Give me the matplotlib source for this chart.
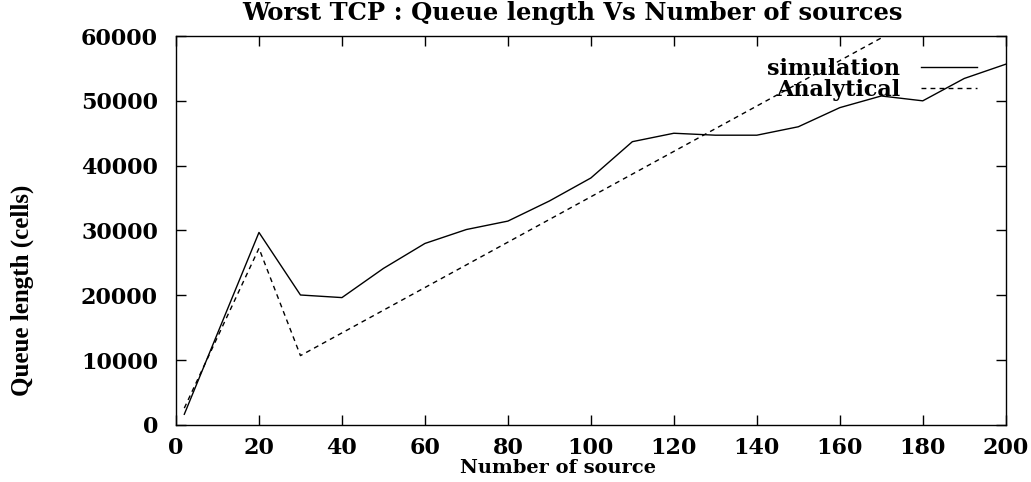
import matplotlib
matplotlib.use("Agg")
import matplotlib.pyplot as plt

# number of sources (x axis)
sources = [2, 20, 30, 40, 50, 60, 70, 80, 90, 100, 110, 120, 130, 140,
           150, 160, 170, 180, 190, 200]

# simulated queue length in cells
simulation = [1650, 29700, 20050, 19650, 24150, 28000, 30150, 31450, 34550,
              38100, 43700, 45000, 44700, 44700, 46000, 48950, 50750, 50000,
              53450, 55650]

# analytical queue length in cells (goes off the top of the plot after ~170)
analytical = [2600, 27250, 10700, 14200, 17700, 21200, 24700, 28200, 31700,
              35200, 38700, 42200, 45700, 49200, 52700, 56200, 59700, 63200,
              66700, 70200]

x_ticks = [0, 20, 40, 60, 80, 100, 120, 140, 160, 180, 200]
y_ticks = [0, 10000, 20000, 30000, 40000, 50000, 60000]

WIDE = "DejaVu Serif"
TIMES = "Liberation Serif"

fig = plt.figure(figsize=(10.31, 4.82), dpi=100)
ax = fig.add_axes([0.1707, 0.1183, 0.8048, 0.807])

ax.plot(sources, simulation, color="black", linewidth=1.0, label="simulation")
ax.plot(sources, analytical, color="black", linewidth=1.0,
        dashes=(3.5, 3), label="Analytical")

ax.set_xlim(0, 200)
ax.set_ylim(0, 60000)
ax.set_xticks(x_ticks)
ax.set_yticks(y_ticks)

ax.tick_params(direction="in", length=7, width=1.0, top=True, right=True)
ax.tick_params(axis="x", pad=9)
ax.tick_params(axis="y", pad=13)
for lab in ax.get_xticklabels() + ax.get_yticklabels():
    lab.set_fontfamily(WIDE)
    lab.set_fontweight("bold")
    lab.set_fontsize(16)
for sp in ax.spines.values():
    sp.set_linewidth(1.0)

leg = ax.legend(loc="upper right", frameon=False, markerfirst=False,
                prop={"family": WIDE, "weight": "bold", "size": 16},
                handlelength=2.5, handletextpad=0.95, labelspacing=-0.05,
                borderpad=0, borderaxespad=0,
                bbox_to_anchor=(0.9654, 0.944))

fig.text(573 / 1031, 1 - 13 / 482,
         "Worst TCP : Queue length Vs Number of sources",
         ha="center", va="center", family=WIDE, weight="bold", fontsize=17.5)
fig.text(558 / 1031, 1 - 468 / 482, "Number of source",
         ha="center", va="center", family=WIDE, weight="bold", fontsize=14)
fig.text(22 / 1031, 1 - 290 / 482, "Queue length (cells)",
         ha="center", va="center", rotation=90, family=TIMES,
         weight="bold", fontsize=18)

fig.savefig("out.png", dpi=100)
plt.close(fig)
